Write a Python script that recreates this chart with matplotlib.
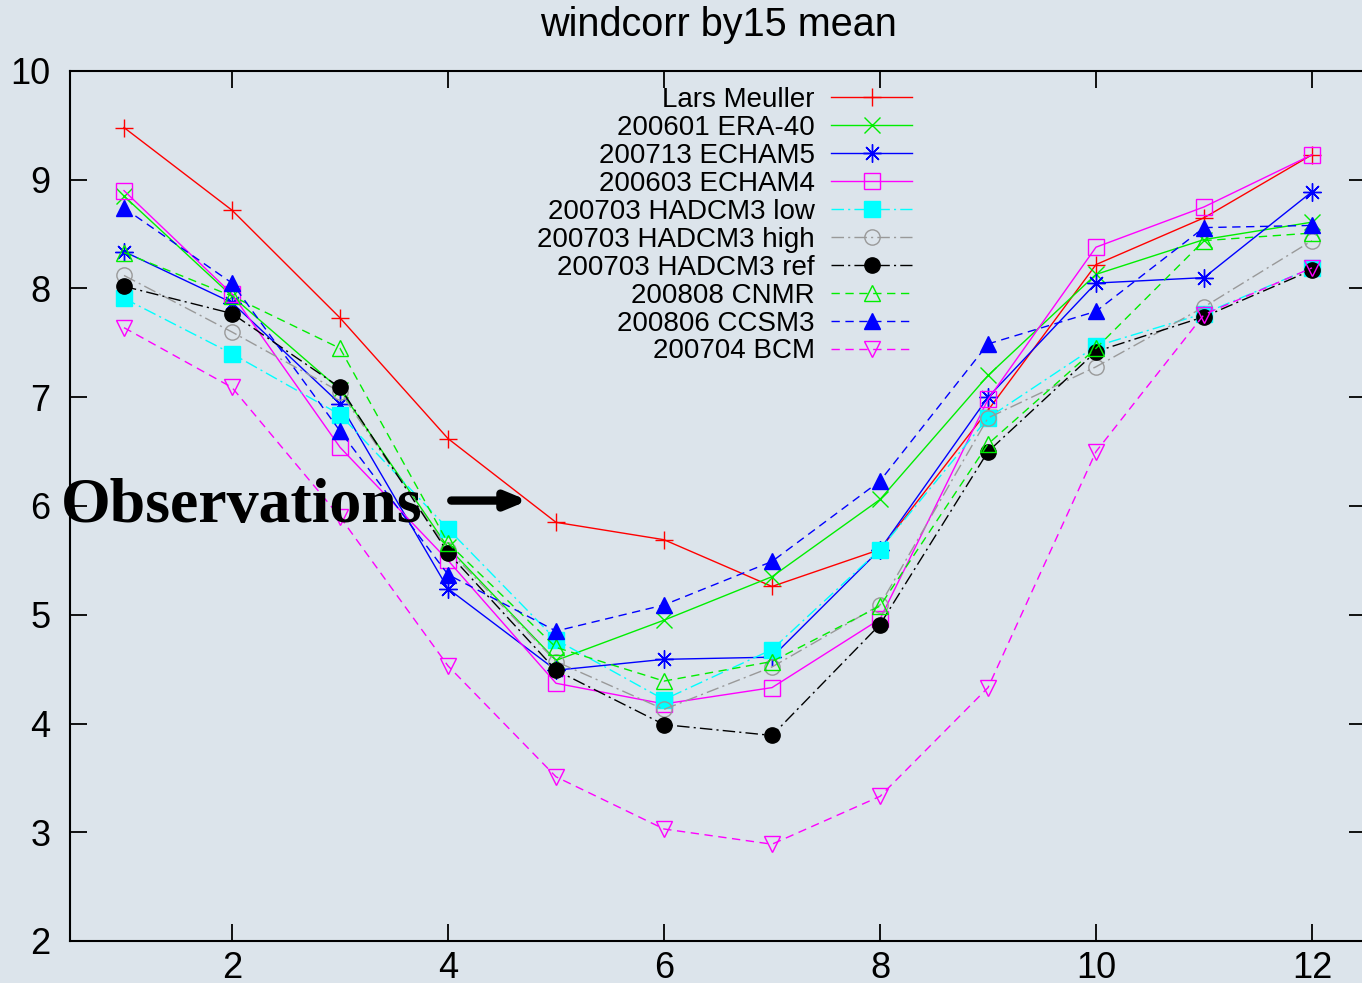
import matplotlib
matplotlib.use("Agg")
import matplotlib.pyplot as plt

months = list(range(1, 13))
labels = ["Lars Meuller", "200601 ERA-40", "200713 ECHAM5", "200603 ECHAM4",
          "200703 HADCM3 low", "200703 HADCM3 high", "200703 HADCM3 ref",
          "200808 CNMR", "200806 CCSM3", "200704 BCM"]

lars   = [9.48, 8.72, 7.73, 6.62, 5.85, 5.69, 5.26, 5.60, 6.88, 8.22, 8.65, 9.23]
era40  = [8.85, 7.93, 7.07, 5.62, 4.58, 4.95, 5.35, 6.06, 7.20, 8.13, 8.45, 8.61]
echam5 = [8.34, 7.87, 6.94, 5.24, 4.49, 4.59, 4.61, 5.60, 7.00, 8.05, 8.10, 8.89]
echam4 = [8.90, 7.95, 6.54, 5.50, 4.37, 4.18, 4.33, 4.96, 6.98, 8.38, 8.75, 9.23]
had_low  = [7.91, 7.40, 6.84, 5.79, 4.77, 4.22, 4.68, 5.60, 6.81, 7.47, 7.77, 8.19]
had_high = [8.12, 7.60, 7.05, 5.60, 4.57, 4.13, 4.52, 5.09, 6.81, 7.28, 7.83, 8.44]
had_ref  = [8.02, 7.77, 7.09, 5.57, 4.49, 3.99, 3.89, 4.91, 6.50, 7.42, 7.74, 8.17]
cnmr   = [8.33, 7.93, 7.45, 5.66, 4.70, 4.39, 4.57, 5.08, 6.57, 7.45, 8.44, 8.51]
ccsm3  = [8.74, 8.05, 6.69, 5.37, 4.85, 5.09, 5.49, 6.23, 7.49, 7.79, 8.56, 8.58]
bcm    = [7.64, 7.09, 5.90, 4.53, 3.51, 3.03, 2.89, 3.33, 4.33, 6.50, 7.76, 8.19]

series = [lars, era40, echam5, echam4, had_low, had_high, had_ref, cnmr, ccsm3, bcm]

xticks = [2, 4, 6, 8, 10, 12]
yticks = [2, 3, 4, 5, 6, 7, 8, 9, 10]

BG = "#dce4eb"
dash = (0, (6, 4))
dashdot = (0, (9, 3, 1.5, 3))
styles = [
    dict(color="#ff0000", ls="-", marker="+", ms=13, mfc="#ff0000"),
    dict(color="#00ee00", ls="-", marker="x", ms=11, mfc="#00ee00"),
    dict(color="#0000ff", ls="-", marker=(8, 2, 0), ms=13, mfc="#0000ff"),
    dict(color="#ff00ff", ls="-", marker="s", ms=11, mfc="none"),
    dict(color="#00ffff", ls=dashdot, marker="s", ms=11, mfc="#00ffff"),
    dict(color="#999999", ls=dashdot, marker="o", ms=11, mfc="none"),
    dict(color="#000000", ls=dashdot, marker="o", ms=11, mfc="#000000"),
    dict(color="#00ee00", ls=dash, marker="^", ms=11, mfc="none"),
    dict(color="#0000ff", ls=dash, marker="^", ms=11, mfc="#0000ff"),
    dict(color="#ff00ff", ls=dash, marker="v", ms=11, mfc="none"),
]

plt.rcParams["font.family"] = ["Liberation Sans", "DejaVu Sans"]

W, H = 1362, 983
fig = plt.figure(figsize=(W / 100, H / 100), dpi=100, facecolor=BG)
ax = fig.add_axes([70 / W, 1 - 941 / H, 1296 / W, 870 / H], facecolor=BG)

for vals, lab, st in zip(series, labels, styles):
    ax.plot(months, vals, label=lab, color=st["color"], linestyle=st["ls"],
            linewidth=1.0, marker=st["marker"], markersize=st["ms"],
            markerfacecolor=st["mfc"], markeredgecolor=st["color"],
            markeredgewidth=1.0)

ax.set_xlim(0.5, 12.5)
ax.set_ylim(2, 10)
ax.set_xticks(xticks)
ax.set_yticks(yticks)
for s in ax.spines.values():
    s.set_linewidth(1.5)
ax.tick_params(direction="in", length=12, width=1.3, top=True, right=True,
               labelsize=26)
ax.tick_params(axis="x", pad=7)
ax.tick_params(axis="y", pad=14)

fig.text(718 / W, 1 - 25 / H, "windcorr by15 mean", ha="center", va="center",
         fontsize=28.5)

leg = ax.legend(loc="upper right", bbox_to_anchor=(912 / W, 1 - 87 / H),
                bbox_transform=fig.transFigure, frameon=False, markerfirst=False,
                fontsize=20, handlelength=2.9, handletextpad=0.6,
                labelspacing=0.07, borderpad=0, borderaxespad=0, numpoints=1)

obs_x, obs_y = 0.42, 5.85
arrow_start, arrow_end, arrow_y = 4.03, 4.74, 6.05
ax.text(obs_x, obs_y, "Observations", fontsize=46, fontweight="bold",
        family=["Liberation Serif", "DejaVu Serif"], ha="left", va="baseline",
        clip_on=False)
ax.annotate("", xy=(arrow_end, arrow_y), xytext=(arrow_start, arrow_y),
            arrowprops=dict(arrowstyle="-|>,head_length=1.2,head_width=0.5",
                            color="black", lw=6, shrinkA=0, shrinkB=0))

fig.savefig("out.png", dpi=100, facecolor=BG)
